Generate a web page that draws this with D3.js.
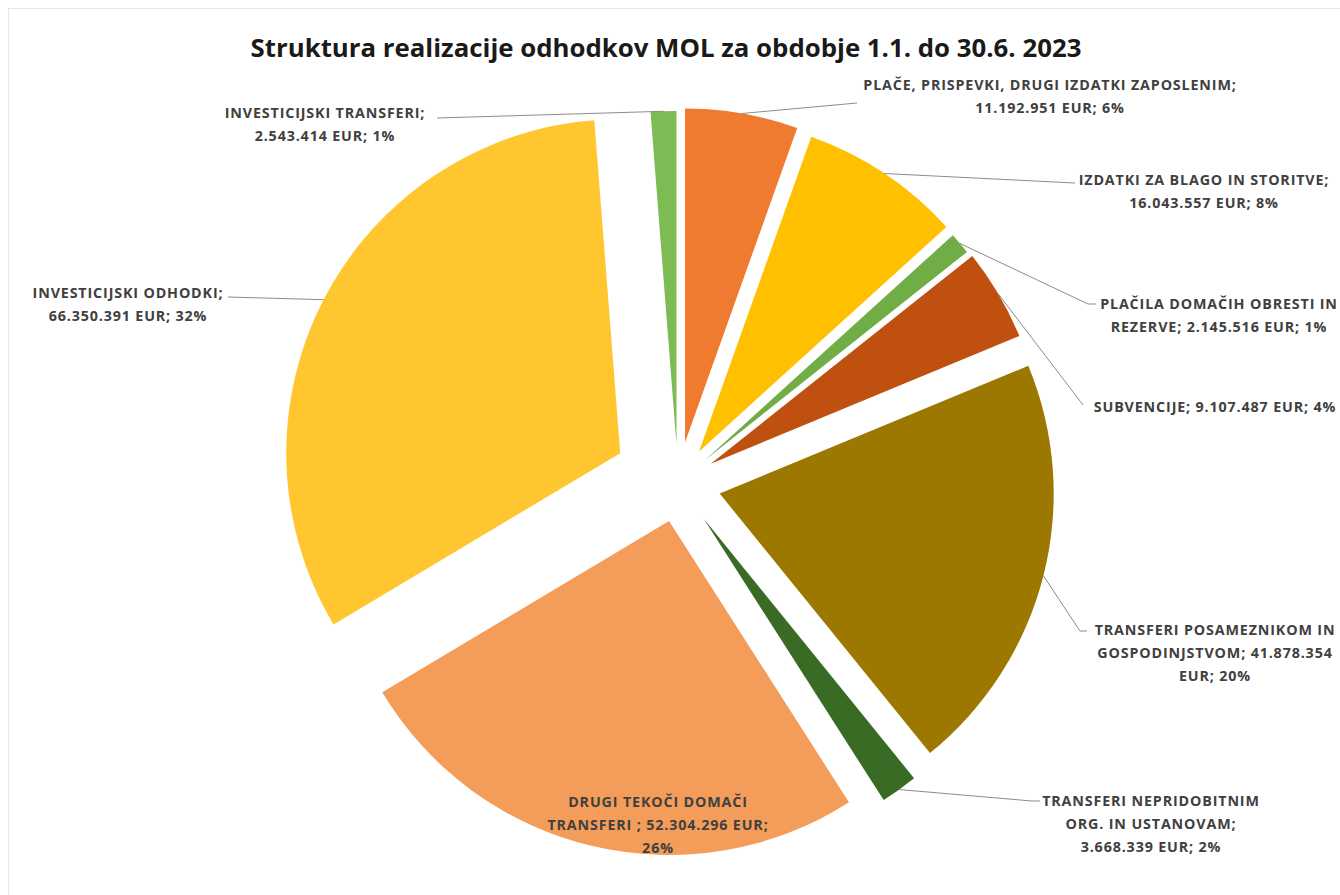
<!DOCTYPE html>
<html>
<head>
<meta charset="utf-8">
<script src="https://cdn.jsdelivr.net/npm/d3@7"></script>
<style>
  html, body { margin: 0; padding: 0; background: #fff; }
  svg { display: block; }
</style>
</head>
<body>
<svg id="chart" width="1340" height="895"></svg>
<script>
// ---- DATA ----
const title = "Struktura realizacije odhodkov MOL za obdobje 1.1. do 30.6. 2023";
const categories = [
  "PLAČE, PRISPEVKI, DRUGI IZDATKI ZAPOSLENIM",
  "IZDATKI ZA BLAGO IN STORITVE",
  "PLAČILA DOMAČIH OBRESTI IN REZERVE",
  "SUBVENCIJE",
  "TRANSFERI POSAMEZNIKOM IN GOSPODINJSTVOM",
  "TRANSFERI NEPRIDOBITNIM ORG. IN USTANOVAM",
  "DRUGI TEKOČI DOMAČI TRANSFERI ",
  "INVESTICIJSKI ODHODKI",
  "INVESTICIJSKI TRANSFERI"
];
const values = [11192951, 16043557, 2145516, 9107487, 41878354, 3668339, 52304296, 66350391, 2543414];
const percentLabels = ["6%", "8%", "1%", "4%", "20%", "2%", "26%", "32%", "1%"];
const currency = "EUR";

// ---- STYLE / LAYOUT ----
const colors = ["#EE7B30", "#FFC000", "#70AD47", "#C0500F", "#9C7800", "#3A6B25", "#F49D5B", "#FFC62F", "#7DBB55"];
// explosion distance of each slice (px)
const explodeBy = [41, 38, 36, 38, 43, 44, 39, 65, 38];
// words per wrapped line of each data label
const wrapWords = [[5, 3], [5, 3], [4, 4], [4], [3, 2, 2], [2, 3, 3], [3, 4, 1], [2, 3], [2, 3]];
// label centre x, first baseline y, leader end point (null = no leader)
const labelLayout = [
  { x: 1050, y: 90,  end: [857, 103] },
  { x: 1204, y: 185, end: [1075, 183] },
  { x: 1219, y: 309, end: [1096, 304], knee: [1088, 304] },
  { x: 1215, y: 412, end: [1083, 405] },
  { x: 1215, y: 635, end: [1087, 631], knee: [1080, 631] },
  { x: 1151, y: 806, end: [1040, 801], knee: [1032, 801] },
  { x: 658,  y: 807, end: null },
  { x: 128,  y: 298, end: [228, 297] },
  { x: 325,  y: 118, end: [437, 118] }
];
const lineHeight = 23;
const cx = 678, cy = 483, radius = 334;
const labelFont = "'Open Sans', Lato, sans-serif";

const fmt = d3.formatLocale({ decimal: ",", thousands: ".", grouping: [3], currency: ["", ""] }).format(",d");

const svg = d3.select("#chart");

// light chart frame
svg.append("rect").attr("x", 8.5).attr("y", 8.5).attr("width", 1345).attr("height", 900)
  .attr("fill", "none").attr("stroke", "#E6E6E6");

svg.append("text")
  .attr("x", 666).attr("y", 57)
  .attr("text-anchor", "middle")
  .attr("font-family", labelFont)
  .attr("font-weight", "bold")
  .attr("font-size", 25.8)
  .attr("fill", "#1a1a1a")
  .text(title);

const pie = d3.pie().sort(null).startAngle(0).endAngle(2 * Math.PI);
const arcs = pie(values);
const arc = d3.arc().innerRadius(0).outerRadius(radius);

const g = svg.append("g").attr("transform", `translate(${cx},${cy})`);

function mid(a) { return (a.startAngle + a.endAngle) / 2; }
function offset(a, i) {
  const m = mid(a);
  return [explodeBy[i] * Math.sin(m), -explodeBy[i] * Math.cos(m)];
}

g.selectAll("path.slice")
  .data(arcs)
  .join("path")
  .attr("class", "slice")
  .attr("d", arc)
  .attr("fill", (d, i) => colors[i])
  .attr("transform", (d, i) => { const o = offset(d, i); return `translate(${o[0]},${o[1]})`; });

// leader lines: from the middle of each slice's outer arc to the label
arcs.forEach((a, i) => {
  const L = labelLayout[i];
  if (!L.end) return;
  const o = offset(a, i);
  const m = mid(a);
  const p = [cx + o[0] + radius * Math.sin(m), cy + o[1] - radius * Math.cos(m)];
  const pts = [p];
  if (L.knee) pts.push(L.knee);
  pts.push(L.end);
  svg.append("path")
    .attr("d", d3.line()(pts))
    .attr("fill", "none")
    .attr("stroke", "#8C8C8C")
    .attr("stroke-width", 1);
});

// data labels
arcs.forEach((a, i) => {
  const full = `${categories[i]}; ${fmt(values[i])} ${currency}; ${percentLabels[i]}`;
  const words = full.split(" ").filter(w => w.length);
  const lines = [];
  let k = 0;
  wrapWords[i].forEach(n => { lines.push(words.slice(k, k + n).join(" ")); k += n; });
  const L = labelLayout[i];
  const t = svg.append("text")
    .attr("text-anchor", "middle")
    .attr("font-family", labelFont)
    .attr("font-weight", "bold")
    .attr("font-size", 14.3)
    .attr("letter-spacing", 0.85)
    .attr("fill", "#404040");
  lines.forEach((ln, j) => {
    t.append("tspan").attr("x", L.x).attr("y", L.y + j * lineHeight).text(ln);
  });
});
</script>
</body>
</html>
